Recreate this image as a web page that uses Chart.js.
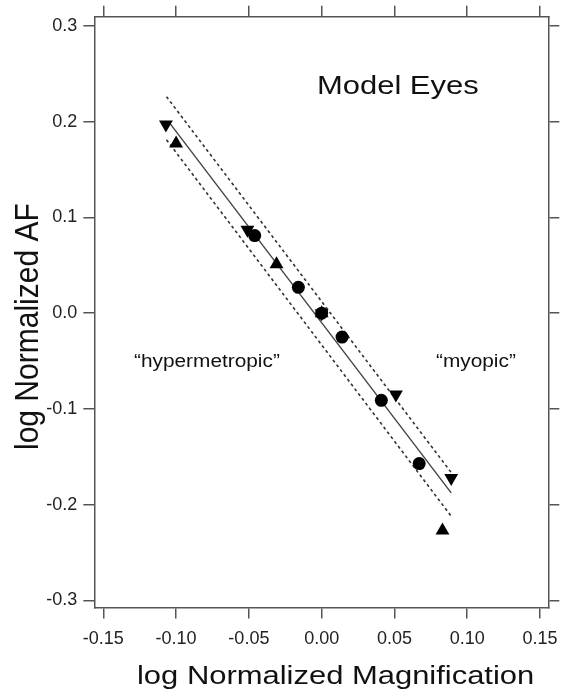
<!DOCTYPE html>
<html>
<head>
<meta charset="utf-8">
<script src="https://cdn.jsdelivr.net/npm/chart.js@4.4.1/dist/chart.umd.min.js"></script>
<style>
  html, body { margin: 0; padding: 0; background: #fff; }
</style>
</head>
<body>
<canvas id="chart" width="569" height="693"></canvas>
<script>
// tick labels
const xTicks = [-0.15, -0.10, -0.05, 0.00, 0.05, 0.10, 0.15];
const yTicks = [-0.3, -0.2, -0.1, 0.0, 0.1, 0.2, 0.3];

// model eyes, three marker groups
const downX = [-0.107, -0.051, 0.000, 0.051, 0.089];
const downY = [0.197, 0.087, 0.000, -0.085, -0.172];
const upX = [-0.100, -0.031, 0.000, 0.083];
const upY = [0.177, 0.051, 0.000, -0.227];
const circleX = [-0.046, -0.016, 0.000, 0.014, 0.041, 0.067];
const circleY = [0.081, 0.027, 0.000, -0.025, -0.091, -0.157];

// regression line and its confidence band
const fitX = [-0.104, 0.089];
const fitY = [0.1976, -0.1876];
const upperX = [-0.1066, 0.0903];
const upperY = [0.226, -0.169];
const lowerX = [-0.1066, 0.089];
const lowerY = [0.181, -0.212];

const FONT = '"Liberation Sans", Arial, Helvetica, sans-serif';
const FRAME = '#555';

const pts = (xs, ys) => xs.map((x, i) => ({x: x, y: ys[i]}));

function axis(position, ticks, fmt, size, showLabels) {
  const horiz = position === 'top' || position === 'bottom';
  return {
    type: 'linear',
    position: position,
    min: horiz ? -0.1562 : -0.3073,
    max: horiz ? 0.1557 : 0.3094,
    afterBuildTicks: s => { s.ticks = ticks.map(v => ({value: v})); },
    afterFit: s => { if (horiz) s.height = size; else s.width = size; },
    ticks: {
      display: showLabels,
      autoSkip: false,
      maxRotation: 0,
      padding: horiz ? 10 : 6,
      color: '#222',
      font: {family: FONT, size: 18},
      callback: v => v.toFixed(fmt)
    },
    grid: {drawOnChartArea: false, drawTicks: true, tickLength: 11, color: FRAME, lineWidth: 1.5},
    border: {display: true, color: FRAME, width: 1.5}
  };
}

// free text: annotations and axis titles
const notes = {
  id: 'notes',
  afterDraw(chart) {
    const ctx = chart.ctx;
    const put = (text, x, y, size, sx) => {
      ctx.save();
      ctx.translate(x, y);
      ctx.scale(sx, 1);
      ctx.font = size + 'px ' + FONT;
      ctx.fillText(text, 0, 0);
      ctx.restore();
    };
    ctx.save();
    ctx.fillStyle = '#111';
    ctx.textAlign = 'left';
    ctx.textBaseline = 'alphabetic';
    put('Model Eyes', 317, 94, 26, 1.19);
    put('\u201Chypermetropic\u201D', 134, 367, 17.5, 1.19);
    put('\u201Cmyopic\u201D', 436, 367, 17.5, 1.19);
    put('log Normalized Magnification', 137, 684, 26, 1.19);

    ctx.translate(38, 450);
    ctx.scale(1.08, 1);
    ctx.rotate(-Math.PI / 2);
    ctx.font = '30px ' + FONT;
    ctx.fillText('log Normalized AF', 0, 0);
    ctx.restore();
  }
};

new Chart(document.getElementById('chart'), {
  type: 'scatter',
  data: {
    datasets: [
      {
        label: 'circles',
        data: pts(circleX, circleY),
        pointStyle: 'circle',
        pointRadius: 6.5,
        backgroundColor: '#000',
        borderWidth: 0
      },
      {
        label: 'up',
        data: pts(upX, upY),
        pointStyle: 'triangle',
        pointRadius: 8,
        backgroundColor: '#000',
        borderWidth: 0
      },
      {
        label: 'down',
        data: pts(downX, downY),
        pointStyle: 'triangle',
        pointRotation: 180,
        pointRadius: 8,
        backgroundColor: '#000',
        borderWidth: 0
      },
      {
        label: 'fit',
        data: pts(fitX, fitY),
        showLine: true,
        pointRadius: 0,
        borderColor: '#444',
        borderWidth: 1.4
      },
      {
        label: 'upper',
        data: pts(upperX, upperY),
        showLine: true,
        pointRadius: 0,
        borderColor: '#333',
        borderWidth: 1.6,
        borderDash: [3, 3]
      },
      {
        label: 'lower',
        data: pts(lowerX, lowerY),
        showLine: true,
        pointRadius: 0,
        borderColor: '#333',
        borderWidth: 1.6,
        borderDash: [3, 3]
      }
    ]
  },
  options: {
    responsive: false,
    animation: false,
    layout: {padding: 0},
    plugins: {
      legend: {display: false},
      tooltip: {enabled: false}
    },
    scales: {
      x: axis('bottom', xTicks, 2, 85.5, true),
      x2: axis('top', xTicks, 2, 16, false),
      y: axis('left', yTicks, 1, 94.3, true),
      y2: axis('right', yTicks, 1, 20.7, false)
    }
  },
  plugins: [notes]
});
</script>
</body>
</html>
